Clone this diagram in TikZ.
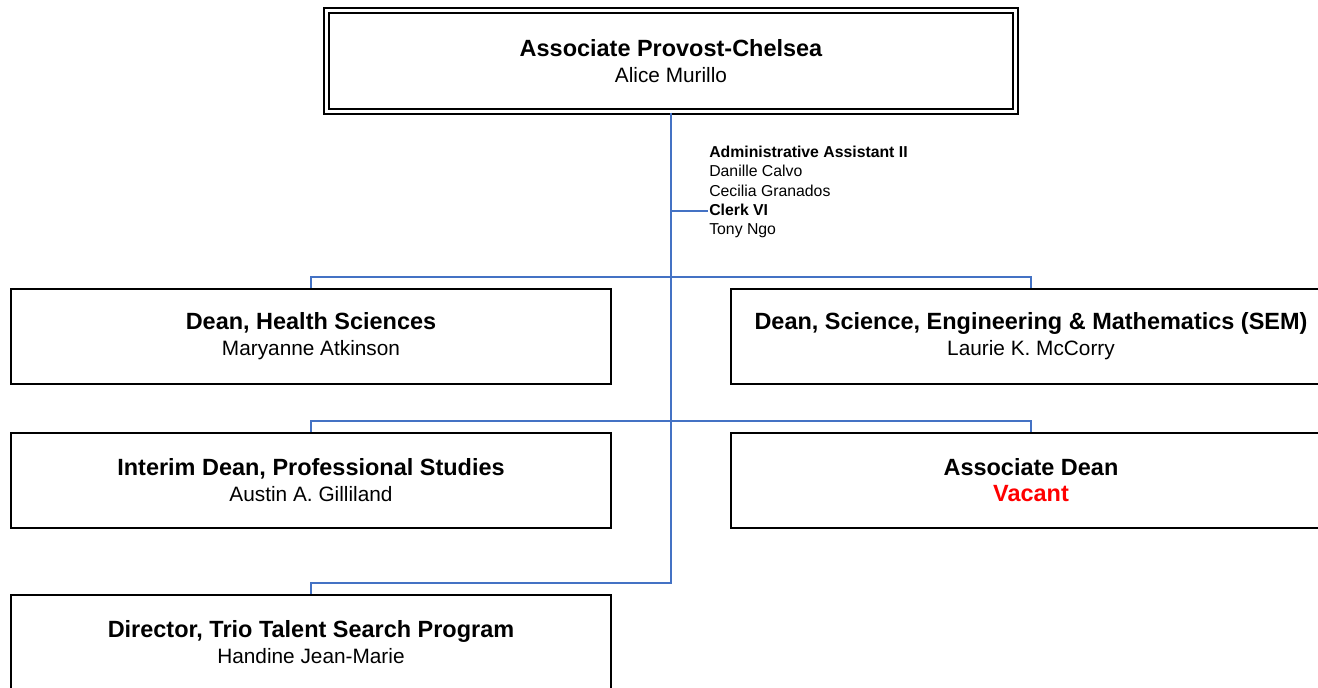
\documentclass[tikz,border=0pt]{standalone}
\usepackage{fontspec}
\setmainfont{Liberation Sans}
\usepackage{xcolor}
\usetikzlibrary{positioning, calc}

\definecolor{linkblue}{RGB}{68,114,196}
\definecolor{vacantred}{RGB}{255,0,0}

\newcommand{\posttitle}{\fontsize{17.6}{19.5}\selectfont\bfseries}
\newcommand{\postname}{\fontsize{15.6}{19.5}\selectfont}

\begin{document}
\begin{tikzpicture}[%
    x=0.75pt, y=-0.75pt,   % one unit = one pixel of the chart
    orgbox/.style={draw, line width=1.4pt, minimum width=450pt,
        minimum height=71.25pt, align=center, inner sep=0pt,
        font=\postname},
    topbox/.style={draw, double, line width=1.4pt, double distance=2.3pt,
        minimum width=517pt, minimum height=76.2pt, align=center,
        inner sep=0pt, font=\postname},
    staff/.style={align=left, inner sep=0pt,
        font=\fontsize{11.85}{14.4}\selectfont},
    link/.style={draw=linkblue, line width=1.3pt}
]
    \useasboundingbox (0,0) rectangle (1318,687);
    \clip (0,0) rectangle (1318,687);

    % ==========================================
    % 1. Boxes (Nodes)
    % ==========================================
    \node[topbox] (provost) at (671,61)
        {{\posttitle Associate Provost-Chelsea}\\Alice Murillo};

    \node[staff, anchor=west] (assist) at (709,192)
        {\textbf{Administrative Assistant II}\\Danille Calvo\\Cecilia Granados\\
         \textbf{Clerk VI}\\Tony Ngo};

    \node[orgbox] (health) at (311,336.5)
        {{\posttitle Dean, Health Sciences}\\Maryanne Atkinson};
    \node[orgbox] (sem) at (1031,336.5)
        {{\posttitle Dean, Science, Engineering \& Mathematics (SEM)}\\Laurie K. McCorry};

    \node[orgbox] (profstud) at (311,480.5)
        {{\posttitle Interim Dean, Professional Studies}\\Austin A. Gilliland};
    \node[orgbox] (assocdean) at (1031,480.5)
        {{\posttitle Associate Dean}\\{\posttitle\color{vacantred}Vacant}};

    \node[orgbox] (trio) at (311,642.5)
        {{\posttitle Director, Trio Talent Search Program}\\Handine Jean-Marie};

    % ==========================================
    % 2. Junctions on the trunk
    % ==========================================
    \coordinate (j0) at (671,211);
    \coordinate (clerk) at (708,211);
    \coordinate (j1) at (671,277);
    \coordinate (j2) at (671,421);
    \coordinate (j3) at (671,583);

    % ==========================================
    % 3. Connectors
    % ==========================================
    % trunk down to the last row
    \draw[link] (provost.south) -- (j3) -| (trio.north);
    % staff branch
    \draw[link] (j0) -- (clerk);
    % first row
    \draw[link] (health.north) |- (j1) -| (sem.north);
    % second row
    \draw[link] (profstud.north) |- (j2) -| (assocdean.north);

\end{tikzpicture}
\end{document}
